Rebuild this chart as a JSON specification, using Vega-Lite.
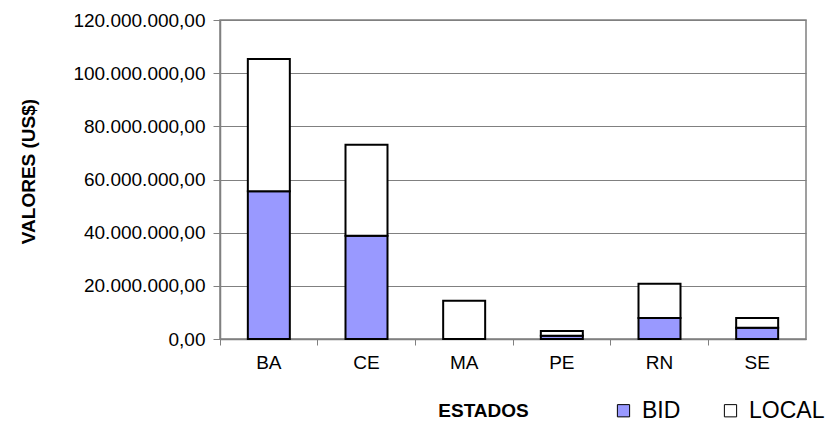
{
  "$schema": "https://vega.github.io/schema/vega-lite/v6.json",
  "autosize": "none",
  "width": 586,
  "height": 319,
  "padding": {"left": 220, "top": 20, "right": 25, "bottom": 83},
  "background": "white",
  "config": {
    "locale": {"number": {"decimal": ",", "thousands": ".", "grouping": [3], "currency": ["US$", ""]}},
    "font": "Liberation Sans",
    "view": {"stroke": "#808080", "strokeWidth": 1.5}
  },
  "data": {
    "values": [
      {"estado": "BA", "fonte": "BID", "valor": 55600000},
      {"estado": "BA", "fonte": "LOCAL", "valor": 49700000},
      {"estado": "CE", "fonte": "BID", "valor": 38800000},
      {"estado": "CE", "fonte": "LOCAL", "valor": 34300000},
      {"estado": "MA", "fonte": "LOCAL", "valor": 14350000},
      {"estado": "PE", "fonte": "BID", "valor": 1250000},
      {"estado": "PE", "fonte": "LOCAL", "valor": 1750000},
      {"estado": "RN", "fonte": "BID", "valor": 7900000},
      {"estado": "RN", "fonte": "LOCAL", "valor": 12900000},
      {"estado": "SE", "fonte": "BID", "valor": 4200000},
      {"estado": "SE", "fonte": "LOCAL", "valor": 3700000}
    ]
  },
  "mark": {"type": "bar", "stroke": "black", "strokeWidth": 2, "width": {"band": 0.43}},
  "encoding": {
    "x": {
      "field": "estado",
      "type": "nominal",
      "scale": {"paddingInner": 0, "paddingOuter": 0},
      "axis": {
        "title": "ESTADOS",
        "titleFontSize": 19,
        "titleFontWeight": "bold",
        "titleX": 263,
        "titleY": 71,
        "titleBaseline": "middle",
        "titleColor": "black",
        "labelAngle": 0,
        "labelFontSize": 19,
        "labelColor": "black",
        "labelPadding": 8,
        "bandPosition": 0,
        "tickSize": 6,
        "tickColor": "#808080",
        "domainColor": "#808080",
        "domainWidth": 1.5,
        "grid": false
      }
    },
    "y": {
      "field": "valor",
      "type": "quantitative",
      "aggregate": "sum",
      "stack": "zero",
      "scale": {"domain": [0, 120000000], "nice": false},
      "axis": {
        "title": "VALORES (US$)",
        "titleFontSize": 19,
        "titleFontWeight": "bold",
        "titleColor": "black",
        "titleX": -192,
        "titleY": 151,
        "titleAlign": "center",
        "titleBaseline": "middle",
        "values": [0, 20000000, 40000000, 60000000, 80000000, 100000000, 120000000],
        "format": ",.2f",
        "labelFontSize": 19,
        "labelColor": "black",
        "labelPadding": 8,
        "tickSize": 7,
        "tickColor": "#808080",
        "domainColor": "#808080",
        "domainWidth": 1.5,
        "grid": true,
        "gridColor": "#808080",
        "gridWidth": 1
      }
    },
    "color": {
      "field": "fonte",
      "type": "nominal",
      "scale": {"domain": ["BID", "LOCAL"], "range": ["#9999FF", "#FFFFFF"]},
      "legend": {
        "title": null,
        "orient": "none",
        "direction": "horizontal",
        "legendX": 392,
        "legendY": 379,
        "symbolType": "square",
        "symbolSize": 150,
        "symbolStrokeColor": "black",
        "symbolStrokeWidth": 1,
        "labelFontSize": 23,
        "labelColor": "black",
        "labelOffset": 7,
        "columnPadding": 38
      }
    },
    "order": {"field": "fonte", "sort": "ascending"}
  }
}
